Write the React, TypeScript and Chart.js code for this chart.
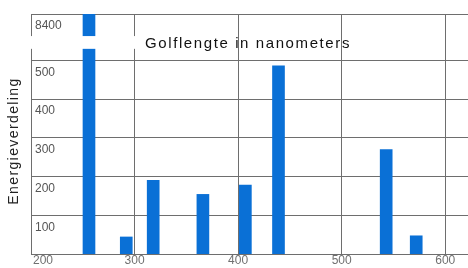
import React, { useEffect, useRef } from "react";
import { Chart, registerables, LinearScale } from "chart.js";

// ---- data ----
const WAVELENGTHS = [256, 292, 318, 366, 407, 439, 543, 572];
const ENERGY = [8400, 44, 190, 154, 178, 486, 270, 47];
const X_TICKS = [200, 300, 400, 500, 600];
const Y_TICKS = [100, 200, 300, 400, 500, 8400];
const TITLE = "Golflengte in nanometers";
const Y_TITLE = "Energieverdeling";

// broken axis: linear up to BREAK_LOW, then compressed above the gap
const BREAK_LOW = 530;
const BREAK_HIGH = 563;
const Y_DISPLAY_MAX = 620;
const Y_REAL_MAX = 8400;

function toDisplay(v: number): number {
  if (v <= BREAK_LOW) return v;
  return BREAK_HIGH + ((v - BREAK_LOW) * (Y_DISPLAY_MAX - BREAK_HIGH)) / (Y_REAL_MAX - BREAK_LOW);
}
function fromDisplay(d: number): number {
  if (d <= BREAK_LOW) return d;
  if (d < BREAK_HIGH) return BREAK_LOW;
  return BREAK_LOW + ((d - BREAK_HIGH) * (Y_REAL_MAX - BREAK_LOW)) / (Y_DISPLAY_MAX - BREAK_HIGH);
}

class BrokenScale extends (LinearScale as any) {
  static id = "broken";
  static defaults = (LinearScale as any).defaults;
  getPixelForValue(value: number) {
    return super.getPixelForValue(value === null ? null : toDisplay(value));
  }
  getValueForPixel(pixel: number) {
    return fromDisplay(super.getValueForPixel(pixel));
  }
}

Chart.register(...registerables, BrokenScale as any);

const FONT = '"Liberation Sans", Arial, sans-serif';

const overlay = {
  id: "overlay",
  afterDatasetsDraw(chart: any) {
    const { ctx, chartArea } = chart;
    const ys = chart.scales.y;
    const xs = chart.scales.x;
    const yLow = ys.getPixelForDecimal(BREAK_LOW / Y_DISPLAY_MAX);
    const yHigh = ys.getPixelForDecimal(BREAK_HIGH / Y_DISPLAY_MAX);
    const left = chartArea.left - 6;
    const right = xs.getPixelForValue(300) + 5;
    ctx.save();
    ctx.fillStyle = "#ffffff";
    ctx.fillRect(left, yHigh, right - left, yLow - yHigh);
    ctx.fillStyle = "#111111";
    ctx.font = `15px ${FONT}`;
    (ctx as any).letterSpacing = "1.6px";
    ctx.textAlign = "center";
    ctx.textBaseline = "middle";
    ctx.fillText(TITLE, 248, (yLow + yHigh) / 2 + 1);
    ctx.translate(14, 141);
    ctx.rotate(-Math.PI / 2);
    ctx.font = `14px ${FONT}`;
    (ctx as any).letterSpacing = "1.4px";
    ctx.fillStyle = "#222222";
    ctx.fillText(Y_TITLE, 0, 0);
    ctx.restore();
  },
};

export default function App() {
  const ref = useRef<HTMLCanvasElement>(null);
  useEffect(() => {
    if (!ref.current) return;
    const chart = new Chart(ref.current, {
      type: "bar",
      data: {
        datasets: [
          {
            data: WAVELENGTHS.map((x, i) => ({ x, y: ENERGY[i] })) as any,
            backgroundColor: "#0a70d6",
            borderWidth: 0,
            barThickness: 12,
          },
        ],
      },
      options: {
        animation: false,
        responsive: false,
        layout: { padding: { left: 23, top: 14, right: 0, bottom: 0 } },
        plugins: { legend: { display: false }, tooltip: { enabled: false }, title: { display: false } },
        scales: {
          x: {
            type: "linear",
            min: 200,
            max: 622,
            offset: false,
            afterBuildTicks: (s: any) => {
              s.ticks = X_TICKS.map((v) => ({ value: v }));
            },
            grid: { color: "#6e6e6e", lineWidth: 1, drawTicks: false, offset: false },
            border: { color: "#6e6e6e", width: 1 },
            ticks: {
              padding: 1,
              color: "#707070",
              font: { family: FONT, size: 12, lineHeight: 1 },
              maxRotation: 0,
              callback: (v: any, i: number) => (i === 0 ? "\u2002\u2002\u2002\u2002" + String(v) : String(v)),
            },
          },
          y: {
            type: "broken" as any,
            min: 0,
            max: Y_DISPLAY_MAX,
            afterBuildTicks: (s: any) => {
              s.ticks = Y_TICKS.map((v) => ({ value: v }));
            },
            grid: { color: "#6e6e6e", lineWidth: 1, drawTicks: false },
            border: { color: "#6e6e6e", width: 1 },
            ticks: {
              mirror: true,
              padding: 4,
              labelOffset: 12,
              color: "#555",
              font: { family: FONT, size: 12 },
              callback: (v: any) => String(v),
            },
          },
        },
      } as any,
      plugins: [overlay],
    });
    return () => chart.destroy();
  }, []);
  return (
    <div style={{ position: "absolute", left: 0, top: 0, width: 468, height: 268, background: "#fff" }}>
      <canvas ref={ref} width={468} height={268} />
    </div>
  );
}
